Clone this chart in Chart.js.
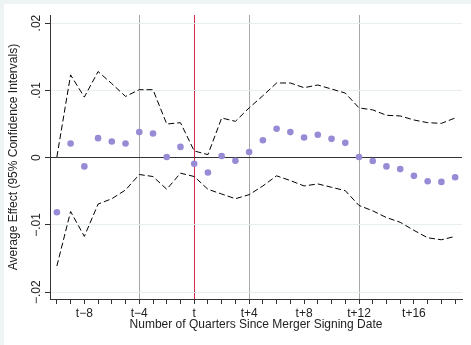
<!DOCTYPE html>
<html>
<head>
<meta charset="utf-8">
<script src="https://cdn.jsdelivr.net/npm/chart.js@4/dist/chart.umd.min.js"></script>
<style>
  html, body { margin: 0; padding: 0; }
  body { width: 471px; height: 345px; background: #eef3f3; position: relative; overflow: hidden; }
  #chart { position: absolute; left: 4px; top: 4px; background: #fff; }
</style>
</head>
<body>
<canvas id="chart" width="467" height="341"></canvas>
<script>
// quarters relative to merger signing date
const quarters = [-10, -9, -8, -7, -6, -5, -4, -3, -2, -1, 0, 1, 2, 3, 4,
                  5, 6, 7, 8, 9, 10, 11, 12, 13, 14, 15, 16, 17, 18, 19];
const effect = [-0.0081, 0.0021, -0.0013, 0.0029, 0.0024, 0.0021, 0.0038, 0.0036, 0.0001, 0.0016,
                -0.0009, -0.0022, 0.00025, -0.00045, 0.00085, 0.0026, 0.0043, 0.0038, 0.0030, 0.0034,
                0.0028, 0.0022, 0.0001, -0.0005, -0.0013, -0.0017, -0.0027, -0.0035, -0.0036, -0.0029];
const upperCI = [0.0001, 0.0123, 0.0090, 0.0128, 0.0110, 0.0091, 0.0101, 0.0101, 0.0050, 0.0052,
                 0.0010, 0.00045, 0.0059, 0.0054, 0.0074, 0.0092, 0.0111, 0.0111, 0.0104, 0.0108,
                 0.0102, 0.0096, 0.0074, 0.0071, 0.0063, 0.0062, 0.0056, 0.0052, 0.0051, 0.0059];
const lowerCI = [-0.0161, -0.0080, -0.0117, -0.0069, -0.0061, -0.0048, -0.0025, -0.0028, -0.0047, -0.0023,
                 -0.0028, -0.0047, -0.0054, -0.0061, -0.0055, -0.0042, -0.0027, -0.0034, -0.0042, -0.0039,
                 -0.0044, -0.0049, -0.0071, -0.0079, -0.0089, -0.0096, -0.0108, -0.0119, -0.0122, -0.0117];

const xTickValues = [-8, -4, 0, 4, 8, 12, 16];
const xTickLabels = ['t\u22128', 't\u22124', 't', 't+4', 't+8', 't+12', 't+16'];
const yTickValues = [-0.02, -0.01, 0, 0.01, 0.02];
const yTickLabels = ['\u2212.02', '\u2212.01', '0', '.01', '.02'];
const greyLines = [-4, 4, 12];
const redLine = 0;

const FONT = '"Liberation Sans", Arial, Helvetica, sans-serif';
const TEXT = '#222';
const AXIS = '#333';

function pts(vals) { return quarters.map((q, i) => ({ x: q, y: vals[i] })); }

const dashed = vals => ({
  type: 'line',
  data: pts(vals),
  borderColor: '#000',
  borderWidth: 1,
  borderDash: [6, 3],
  pointRadius: 0,
  fill: false,
  tension: 0,
  order: 2
});

// y tick labels drawn vertically, Stata style
const yLabels = {
  id: 'yLabels',
  afterDraw(chart) {
    const ctx = chart.ctx, y = chart.scales.y;
    ctx.save();
    ctx.font = '12px ' + FONT;
    ctx.fillStyle = TEXT;
    ctx.textAlign = 'center';
    ctx.textBaseline = 'middle';
    yTickValues.forEach((v, i) => {
      ctx.save();
      ctx.translate(33, y.getPixelForValue(v));
      ctx.rotate(-Math.PI / 2);
      ctx.fillText(yTickLabels[i], 0, 0);
      ctx.restore();
    });
    ctx.save();
    ctx.translate(10, (chart.chartArea.top + chart.chartArea.bottom) / 2);
    ctx.rotate(-Math.PI / 2);
    ctx.fillText('Average Effect (95% Confidence Intervals)', 0, 0);
    ctx.restore();
    ctx.fillText('Number of Quarters Since Merger Signing Date',
      (chart.chartArea.left + chart.chartArea.right) / 2, 321);
    ctx.restore();
  }
};

new Chart(document.getElementById('chart'), {
  type: 'scatter',
  data: {
    datasets: [
      {
        label: 'Effect',
        data: pts(effect),
        backgroundColor: '#978bd6',
        borderColor: '#978bd6',
        pointRadius: 3.3,
        borderWidth: 0,
        order: 0
      },
      dashed(upperCI),
      dashed(lowerCI)
    ]
  },
  options: {
    responsive: false,
    animation: false,
    layout: { padding: { top: 11, right: 9, left: 0, bottom: 0 } },
    plugins: { legend: { display: false }, tooltip: { enabled: false } },
    scales: {
      x: {
        type: 'linear',
        min: -10.5,
        max: 19.5,
        afterBuildTicks: s => { s.ticks = quarters.map(v => ({ value: v })); },
        afterFit: s => { s.height = 46; },
        border: { display: true, color: AXIS, width: 1 },
        grid: {
          drawTicks: true,
          tickLength: 5,
          tickColor: AXIS,
          lineWidth: 1,
          color: c => {
            const v = c.tick && c.tick.value;
            if (v === redLine) return '#d8294f';
            if (greyLines.includes(v)) return '#a8a8a8';
            return 'rgba(0,0,0,0)';
          }
        },
        ticks: {
          autoSkip: false,
          maxRotation: 0,
          minRotation: 0,
          padding: 2,
          color: TEXT,
          font: { family: FONT, size: 12 },
          callback: v => {
            const i = xTickValues.indexOf(v);
            return i >= 0 ? xTickLabels[i] : '';
          }
        }
      },
      y: {
        min: -0.021,
        max: 0.0212,
        afterBuildTicks: s => { s.ticks = yTickValues.map(v => ({ value: v })); },
        afterFit: s => { s.width = 46; },
        border: { display: true, color: AXIS, width: 1 },
        grid: {
          drawTicks: true,
          tickLength: 5,
          tickColor: AXIS,
          lineWidth: 1,
          color: c => (c.tick && c.tick.value === 0) ? '#333' : '#e6eeee'
        },
        ticks: { display: false }
      }
    }
  },
  plugins: [yLabels]
});
</script>
</body>
</html>
